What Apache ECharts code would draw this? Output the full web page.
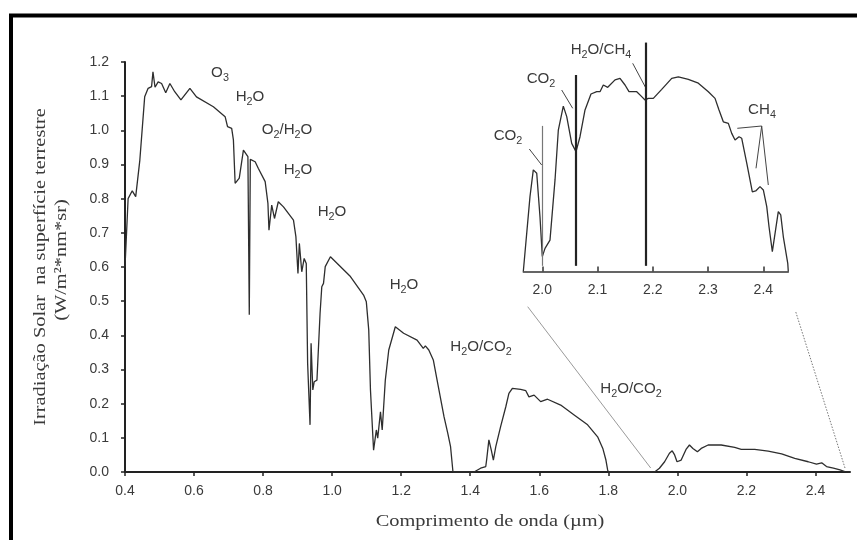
<!DOCTYPE html>
<html>
<head>
<meta charset="utf-8">
<script src="https://cdn.jsdelivr.net/npm/echarts@6/dist/echarts.min.js"></script>
<style>
  html, body { margin: 0; padding: 0; background: #ffffff; }
  #chart { width: 857px; height: 540px; }
</style>
</head>
<body>
<div id="chart"></div>
<script>
// Solar spectral irradiance at the Earth's surface (W/m2*nm*sr) versus wavelength (µm)
const mainWavelength = [
  0.400, 0.409, 0.421, 0.431, 0.443, 0.457, 0.467, 0.477, 0.481, 0.487,
  0.496, 0.506, 0.518, 0.530, 0.544, 0.562, 0.588, 0.607, 0.656, 0.690,
  0.697, 0.709, 0.714, 0.719, 0.731, 0.743, 0.748, 0.756, 0.760, 0.763,
  0.777, 0.786, 0.806, 0.814, 0.817, 0.825, 0.833, 0.844, 0.859, 0.888,
  0.895, 0.901, 0.905, 0.912, 0.919, 0.925, 0.929, 0.936, 0.939, 0.944,
  0.948, 0.956, 0.965, 0.970, 0.975, 0.980, 0.995, 1.053, 1.091, 1.099,
  1.106, 1.111, 1.120, 1.128, 1.132, 1.140, 1.145, 1.154, 1.164, 1.183,
  1.207, 1.246, 1.264, 1.270, 1.280, 1.293, 1.304, 1.324, 1.335, 1.343,
  1.350, 1.411, 1.430, 1.445, 1.448, 1.454, 1.461, 1.467, 1.474, 1.488,
  1.503, 1.512, 1.522, 1.546, 1.561, 1.570, 1.585, 1.604, 1.624, 1.662,
  1.701, 1.740, 1.769, 1.784, 1.793, 1.798, 1.800, 1.934, 1.948, 1.963,
  1.977, 1.985, 1.992, 1.999, 2.011, 2.025, 2.035, 2.045, 2.058, 2.069,
  2.089, 2.127, 2.166, 2.185, 2.224, 2.263, 2.302, 2.340, 2.379, 2.403,
  2.418, 2.432, 2.452, 2.471, 2.485, 2.500
];
const mainIrradiance = [
  0.600, 0.800, 0.823, 0.806, 0.913, 1.098, 1.123, 1.128, 1.171, 1.126,
  1.142, 1.137, 1.110, 1.137, 1.113, 1.089, 1.123, 1.098, 1.069, 1.040,
  1.011, 1.006, 0.972, 0.845, 0.860, 0.942, 0.947, 0.923, 0.460, 0.915,
  0.908, 0.889, 0.850, 0.786, 0.708, 0.781, 0.742, 0.791, 0.776, 0.737,
  0.689, 0.581, 0.669, 0.586, 0.625, 0.610, 0.318, 0.138, 0.377, 0.240,
  0.264, 0.269, 0.464, 0.542, 0.552, 0.601, 0.630, 0.572, 0.518, 0.498,
  0.416, 0.240, 0.064, 0.123, 0.099, 0.176, 0.123, 0.269, 0.357, 0.425,
  0.406, 0.386, 0.362, 0.369, 0.357, 0.328, 0.269, 0.162, 0.113, 0.074,
  0.000, 0.000, 0.011, 0.016, 0.040, 0.094, 0.064, 0.035, 0.074, 0.133,
  0.191, 0.230, 0.245, 0.242, 0.238, 0.220, 0.225, 0.206, 0.213, 0.196,
  0.167, 0.138, 0.103, 0.069, 0.035, 0.006, 0.000, 0.000, 0.011, 0.030,
  0.055, 0.062, 0.050, 0.030, 0.035, 0.066, 0.079, 0.069, 0.059, 0.069,
  0.079, 0.079, 0.072, 0.066, 0.066, 0.061, 0.053, 0.040, 0.030, 0.023,
  0.027, 0.016, 0.011, 0.006, 0.001, 0.000
];

// Detail of the 2.0–2.45 µm window
const insetWavelength = [
  1.9656, 1.9777, 1.9837, 1.9899, 1.9958, 2.0000, 2.0049, 2.0139, 2.0230, 2.0290,
  2.0380, 2.0442, 2.0532, 2.0610, 2.0682, 2.0773, 2.0881, 2.0985, 2.1044, 2.1104,
  2.1184, 2.1316, 2.1406, 2.1497, 2.1569, 2.1709, 2.1799, 2.1859, 2.1919, 2.2009,
  2.2161, 2.2342, 2.2462, 2.2643, 2.2824, 2.3005, 2.3126, 2.3198, 2.3276, 2.3367,
  2.3428, 2.3488, 2.3560, 2.3609, 2.3700, 2.3801, 2.3862, 2.3940, 2.4000, 2.4062,
  2.4103, 2.4163, 2.4271, 2.4315, 2.4362, 2.4442, 2.4452
];
const insetIrradiance = [
  0.0000, 0.0291, 0.0395, 0.0382, 0.0213, 0.0058, 0.0090, 0.0122, 0.0356, 0.0550,
  0.0643, 0.0602, 0.0498, 0.0466, 0.0524, 0.0628, 0.0690, 0.0699, 0.0699, 0.0725,
  0.0716, 0.0745, 0.0751, 0.0725, 0.0699, 0.0699, 0.0680, 0.0667, 0.0673, 0.0673,
  0.0708, 0.0751, 0.0757, 0.0747, 0.0732, 0.0699, 0.0673, 0.0628, 0.0582, 0.0576,
  0.0537, 0.0511, 0.0524, 0.0518, 0.0421, 0.0310, 0.0313, 0.0330, 0.0317, 0.0252,
  0.0174, 0.0077, 0.0233, 0.0220, 0.0135, 0.0032, 0.0000
];
const insetTicks = [2.0, 2.1, 2.2, 2.3, 2.4];

// Absorption band markers in the detail plot: wavelength and marker height
const bandLineWavelength = [2.000, 2.061, 2.188];
const bandLineTop = [0.0566, 0.0764, 0.0890];

const SANS = '"Liberation Sans", Arial, sans-serif';
const SERIF = '"Liberation Serif", "Times New Roman", serif';
const TEXT = '#3a3a3a';
const LINE = '#2e2e2e';

const zip = (xs, ys) => xs.map((x, i) => [x, ys[i]]);
const fmt1 = v => v.toFixed(1);

// "H_2O/CO_2" -> rich text with subscripts
function chem(str) {
  let out = '';
  const parts = str.split(/_(\d)/);
  parts.forEach((p, i) => {
    if (!p) return;
    out += (i % 2 === 1) ? '{s|' + p + '}' : '{n|' + p + '}';
  });
  return out;
}
const chemRich = {
  n: { fontSize: 14, fontFamily: SANS, fill: TEXT, lineHeight: 20, verticalAlign: 'top' },
  s: { fontSize: 10, fontFamily: SANS, fill: TEXT, lineHeight: 20, verticalAlign: 'top', padding: [7, 0, 0, 0] }
};

const bandLabels = [
  ['O_3', 220, 74], ['H_2O', 250, 98], ['O_2/H_2O', 287, 131], ['H_2O', 298, 171],
  ['H_2O', 332, 213], ['H_2O', 404, 286], ['H_2O/CO_2', 481, 348], ['H_2O/CO_2', 631, 390],
  ['CO_2', 508, 137], ['CO_2', 541, 80], ['H_2O/CH_4', 601, 51], ['CH_4', 762, 111]
];

const graphics = [];
// outer frame
graphics.push({
  type: 'rect', silent: true,
  shape: { x: 11, y: 15.5, width: 1000, height: 800 },
  style: { fill: 'none', stroke: '#000', lineWidth: 4 }
});
bandLabels.forEach(([t, cx, cy]) => {
  graphics.push({
    type: 'text', silent: true, x: cx, y: cy + 2, scaleX: 1.08,
    style: { text: chem(t), rich: chemRich, align: 'center', verticalAlign: 'middle' }
  });
});
// leader lines from labels to bands
const leaders = [
  [[529.3, 149], [541.7, 165]],
  [[561.7, 90], [572.7, 108.3]],
  [[632.7, 63.3], [646, 88.3]],
  [[737.3, 128.3], [761.7, 126], [756, 168.3]],
  [[761.7, 126], [768.3, 185]]
];
leaders.forEach(pts => graphics.push({
  type: 'polyline', silent: true, shape: { points: pts },
  style: { stroke: '#444', lineWidth: 1, fill: 'none' }
}));
// zoom connectors between the main axis and the detail plot
graphics.push({
  type: 'line', silent: true,
  shape: { x1: 650.7, y1: 468, x2: 527.7, y2: 306.7 },
  style: { stroke: '#9a9a9a', lineWidth: 1 }
});
graphics.push({
  type: 'line', silent: true,
  shape: { x1: 845, y1: 468, x2: 795.7, y2: 311.7 },
  style: { stroke: '#777', lineWidth: 1, lineDash: [1.5, 1.5] }
});
// axis titles
graphics.push({
  type: 'text', silent: true, x: 41, y: 267, rotation: Math.PI / 2, scaleX: 1.2,
  style: { text: 'Irradiação Solar  na superfície terrestre', font: '17px ' + SERIF, fill: TEXT, align: 'center', verticalAlign: 'middle' }
});
graphics.push({
  type: 'text', silent: true, x: 62, y: 260, rotation: Math.PI / 2, scaleX: 1.2,
  style: { text: '(W/m²*nm*sr)', font: '17px ' + SERIF, fill: TEXT, align: 'center', verticalAlign: 'middle' }
});
graphics.push({
  type: 'text', silent: true, x: 490, y: 522, scaleX: 1.2,
  style: { text: 'Comprimento de onda (µm)', font: '17px ' + SERIF, fill: TEXT, align: 'center', verticalAlign: 'middle' }
});

const chart = echarts.init(document.getElementById('chart'), null, { renderer: 'canvas' });
chart.setOption({
  animation: false,
  backgroundColor: '#ffffff',
  grid: [
    { left: 125, top: 62, width: 725, height: 410 },
    { left: 523.3, top: 40, width: 265, height: 231.5 }
  ],
  xAxis: [
    {
      type: 'value', gridIndex: 0, min: 0.4, max: 2.5, interval: 0.2,
      axisLine: { show: true, onZero: false, lineStyle: { color: '#222', width: 2 } },
      axisTick: { show: true, length: 4, lineStyle: { color: '#222', width: 1.5 } },
      axisLabel: { formatter: fmt1, showMaxLabel: false, margin: 12, fontSize: 14, fontFamily: SANS, color: TEXT },
      splitLine: { show: false }
    },
    {
      type: 'value', gridIndex: 1, min: 1.9656, max: 2.4452,
      axisLine: { show: true, onZero: false, lineStyle: { color: '#333', width: 1.5 } },
      axisTick: { show: true, inside: true, length: 5, customValues: insetTicks, lineStyle: { color: '#333', width: 1.5 } },
      axisLabel: { customValues: insetTicks, formatter: fmt1, margin: 12, fontSize: 14, fontFamily: SANS, color: TEXT },
      splitLine: { show: false }
    }
  ],
  yAxis: [
    {
      type: 'value', gridIndex: 0, min: 0, max: 1.2, interval: 0.1,
      axisLine: { show: true, lineStyle: { color: '#222', width: 2 } },
      axisTick: { show: true, length: 4, lineStyle: { color: '#222', width: 1.5 } },
      axisLabel: { formatter: fmt1, margin: 16, fontSize: 14, fontFamily: SANS, color: TEXT },
      splitLine: { show: false }
    },
    { type: 'value', gridIndex: 1, min: 0, max: 0.09, show: false }
  ],
  series: [
    {
      type: 'line', xAxisIndex: 0, yAxisIndex: 0,
      data: zip(mainWavelength, mainIrradiance),
      showSymbol: false, silent: true,
      lineStyle: { color: LINE, width: 1.3 }
    },
    {
      type: 'line', xAxisIndex: 1, yAxisIndex: 1,
      data: zip(insetWavelength, insetIrradiance),
      showSymbol: false, silent: true,
      lineStyle: { color: LINE, width: 1.3 },
      markLine: {
        silent: true, symbol: 'none', label: { show: false },
        data: bandLineWavelength.map((w, i) => [
          { coord: [w, 0.0022], lineStyle: { color: i === 0 ? '#777' : '#222', width: i === 0 ? 1.2 : 2.2, type: 'solid' } },
          { coord: [w, bandLineTop[i]] }
        ])
      }
    }
  ],
  graphic: graphics
});
</script>
</body>
</html>
